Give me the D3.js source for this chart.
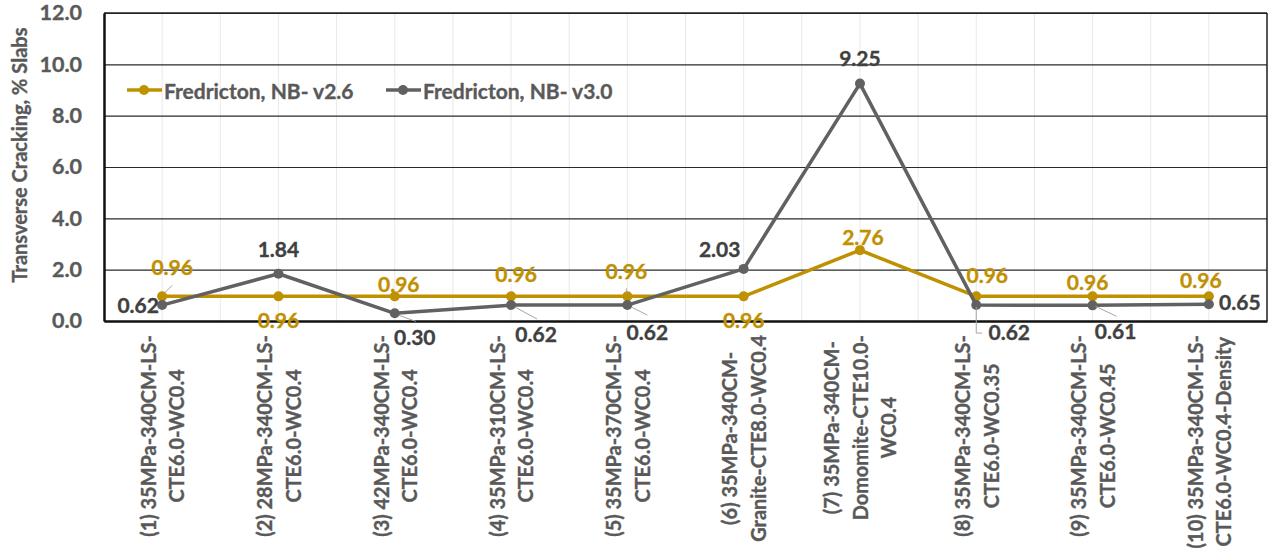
<!DOCTYPE html>
<html>
<head>
<meta charset="utf-8">
<script src="https://cdn.jsdelivr.net/npm/d3@7"></script>
<style>
  html, body { margin: 0; padding: 0; background: #fff; }
  svg { display: block; font-family: Lato, "Open Sans", sans-serif; font-weight: 700; }
  svg text { paint-order: stroke; stroke-width: 0.35px; }
</style>
</head>
<body>
<svg id="chart" width="1273" height="550"></svg>
<script>
// Mix designs compared (multi-line axis labels, split on "\n")
const categories = [
  "(1) 35MPa-340CM-LS-\nCTE6.0-WC0.4",
  "(2) 28MPa-340CM-LS-\nCTE6.0-WC0.4",
  "(3) 42MPa-340CM-LS-\nCTE6.0-WC0.4",
  "(4) 35MPa-310CM-LS-\nCTE6.0-WC0.4",
  "(5) 35MPa-370CM-LS-\nCTE6.0-WC0.4",
  "(6) 35MPa-340CM-\nGranite-CTE8.0-WC0.4",
  "(7) 35MPa-340CM-\nDomomite-CTE10.0-\nWC0.4",
  "(8) 35MPa-340CM-LS-\nCTE6.0-WC0.35",
  "(9) 35MPa-340CM-LS-\nCTE6.0-WC0.45",
  "(10) 35MPa-340CM-LS-\nCTE6.0-WC0.4-Density"
];

// Transverse cracking (% slabs) for each software version
const seriesNames = ["Fredricton, NB- v2.6", "Fredricton, NB- v3.0"];
const valuesV26 = [0.96, 0.96, 0.96, 0.96, 0.96, 0.96, 2.76, 0.96, 0.96, 0.96];
const valuesV30 = [0.62, 1.84, 0.30, 0.62, 0.62, 2.03, 9.25, 0.62, 0.61, 0.65];

// Y axis ticks
const yTicks = [0, 2, 4, 6, 8, 10, 12];

// Data label placement: [dx, dy] of label centre/baseline from the point
const labelOffV26 = [[10,-21],[0,32],[4,-4],[5,-14],[-1,-17],[0,32],[3,-5],[11,-13],[-5,-6],[-8,-8]];
const labelOffV30 = [[-24,8],[0,-17],[20,32],[25,37],[20,35],[-24,-12],[0,-17.5],[33,35],[23,34],[31,6]];
// Leader lines (point lists relative to the data point)
const leadersV26 = {0: [[2,-3],[10,-11]], 4: [[-1,-8],[-1,-3]]};
const leadersV30 = {2: [[4,2],[21,8]], 3: [[4,2],[26,14]], 4: [[4,2],[20,10]],
                    7: [[0,2],[0,28],[6,28]], 8: [[3,1],[24,11]]};

const gold = "#BF9000", grey = "#616161", greyLabel = "#404040", axisText = "#595959";

const svg = d3.select("#chart");
const m = {left: 104, right: 1267, top: 13, bottom: 321};

const x = d3.scaleBand().domain(d3.range(categories.length)).range([m.left, m.right]);
const y = d3.scaleLinear().domain([0, 12]).range([m.bottom, m.top]);
const cx = i => x(i) + x.bandwidth() / 2;

// Vertical gridlines (every half category)
const vg = svg.append("g");
d3.range(0, categories.length * 2 + 1).forEach(k => {
  const xv = m.left + k * x.bandwidth() / 2;
  vg.append("line").attr("x1", xv).attr("x2", xv).attr("y1", m.top).attr("y2", m.bottom)
    .attr("stroke", "#e9e9e9").attr("stroke-width", 1);
});

// Horizontal gridlines
svg.append("g")
  .attr("transform", `translate(${m.left},0)`)
  .call(d3.axisLeft(y).tickValues(yTicks).tickSize(-(m.right - m.left)).tickFormat(""))
  .call(g => g.select(".domain").remove())
  .call(g => g.selectAll("line").attr("stroke", "#2a2a2a").attr("stroke-width", 1.2));

// Frame: top and right
svg.append("line").attr("x1", m.left).attr("x2", m.right).attr("y1", m.top).attr("y2", m.top)
  .attr("stroke", "#222").attr("stroke-width", 1.5);
svg.append("line").attr("x1", m.right).attr("x2", m.right).attr("y1", m.top).attr("y2", m.bottom)
  .attr("stroke", "#222").attr("stroke-width", 1.5);

// Y axis
const yAxis = svg.append("g")
  .attr("transform", `translate(${m.left},0)`)
  .call(d3.axisLeft(y).tickValues(yTicks).tickSize(0).tickPadding(22).tickFormat(d3.format(".1f")));
yAxis.select(".domain").attr("stroke", "#111").attr("stroke-width", 2.5);
yAxis.selectAll("text").attr("fill", axisText).attr("stroke", axisText)
  .attr("font-size", 21.5).attr("font-family", "Lato").attr("font-weight", 700);

// X axis
const xAxis = svg.append("g")
  .attr("transform", `translate(0,${m.bottom})`)
  .call(d3.axisBottom(x).tickSize(0).tickFormat(""));
xAxis.select(".domain").attr("stroke", "#111").attr("stroke-width", 2.5);

// Category labels: rotated, lines centred, block hanging below the axis.
// Font size is fitted so the first label's top line spans 202px.
const catG = svg.append("g");
const probe = catG.append("text").attr("font-size", 20).text(categories[0].split("\n")[0]);
const catSize = 20 * 202 / probe.node().getComputedTextLength();
probe.remove();
const lineGap = 28.5;
categories.forEach((c, i) => {
  const lines = c.split("\n");
  const g = catG.append("g");
  const texts = lines.map(ln => g.append("text")
    .attr("text-anchor", "middle")
    .attr("dominant-baseline", "central")
    .attr("font-size", catSize)
    .attr("fill", axisText)
    .attr("stroke", axisText)
    .text(ln));
  const maxW = d3.max(texts, t => t.node().getComputedTextLength());
  const cy = 335 + maxW / 2;
  texts.forEach((t, j) => {
    const xx = cx(i) + (j - (lines.length - 1) / 2) * lineGap;
    t.attr("transform", `translate(${xx},${cy}) rotate(-90)`);
  });
});

// Y axis title
svg.append("text")
  .attr("transform", `translate(27,155) rotate(-90)`)
  .attr("text-anchor", "middle")
  .attr("font-size", 20)
  .attr("fill", axisText)
  .attr("stroke", axisText)
  .text("Transverse Cracking, % Slabs");

// Series
const line = d3.line().x((d, i) => cx(i)).y(d => y(d));
function drawSeries(vals, color) {
  svg.append("path").datum(vals).attr("d", line)
    .attr("fill", "none").attr("stroke", color).attr("stroke-width", 3.5)
    .attr("stroke-linejoin", "round");
  svg.append("g").selectAll("circle").data(vals).join("circle")
    .attr("cx", (d, i) => cx(i)).attr("cy", d => y(d)).attr("r", 5).attr("fill", color);
}
drawSeries(valuesV26, gold);
drawSeries(valuesV30, grey);

// Leader lines
function drawLeaders(vals, leaders) {
  Object.entries(leaders).forEach(([i, pts]) => {
    const px = cx(+i), py = y(vals[+i]);
    svg.append("polyline")
      .attr("points", pts.map(p => `${px + p[0]},${py + p[1]}`).join(" "))
      .attr("fill", "none").attr("stroke", "#a6a6a6").attr("stroke-width", 1);
  });
}
drawLeaders(valuesV26, leadersV26);
drawLeaders(valuesV30, leadersV30);

// Data labels
function drawLabels(vals, offs, color) {
  svg.append("g").selectAll("text").data(vals).join("text")
    .attr("x", (d, i) => cx(i) + offs[i][0])
    .attr("y", (d, i) => y(d) + offs[i][1])
    .attr("text-anchor", "middle")
    .attr("font-size", 21)
    .attr("fill", color)
    .attr("stroke", color)
    .text(d => d3.format(".2f")(d));
}
drawLabels(valuesV26, labelOffV26, gold);
drawLabels(valuesV30, labelOffV30, greyLabel);

// Legend
const legend = svg.append("g");
const legendItems = [
  {name: seriesNames[0], color: gold, x0: 127},
  {name: seriesNames[1], color: grey, x0: 386}
];
legendItems.forEach(it => {
  legend.append("line").attr("x1", it.x0).attr("x2", it.x0 + 35).attr("y1", 90).attr("y2", 90)
    .attr("stroke", it.color).attr("stroke-width", 3.5);
  legend.append("circle").attr("cx", it.x0 + 17).attr("cy", 90).attr("r", 5).attr("fill", it.color);
  legend.append("text").attr("x", it.x0 + 37).attr("y", 90)
    .attr("dominant-baseline", "central").attr("font-size", 21).attr("fill", axisText)
    .attr("stroke", axisText)
    .text(it.name);
});
</script>
</body>
</html>
